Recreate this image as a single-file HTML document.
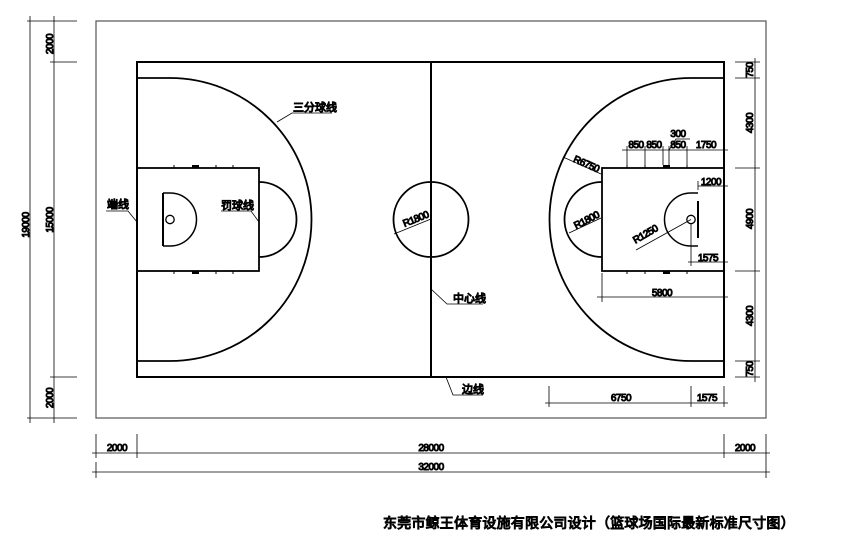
<!DOCTYPE html>
<html><head><meta charset="utf-8"><style>
html,body{margin:0;padding:0;background:#fff;width:842px;height:544px;overflow:hidden}
svg{display:block}
text{font-family:"Liberation Sans","Noto Sans CJK SC",sans-serif;fill:#222;font-weight:normal}
.d{font-size:10px;letter-spacing:-0.5px}
.c{font-size:11px;font-weight:600}
</style></head><body>
<svg width="842" height="544" viewBox="0 0 842 544" xmlns="http://www.w3.org/2000/svg">
<g fill="none" stroke="#000">
<rect x="96" y="21" width="670" height="397" stroke="#555" stroke-width="1.2"/>
<rect x="137" y="62" width="587" height="315" stroke-width="2"/>
<line x1="431" y1="62" x2="431" y2="377" stroke-width="2"/>
<circle cx="431" cy="219.5" r="37.5" stroke-width="1.8"/>
<path d="M137 78 H170 A141.5 141.5 0 0 1 170 361 H137" stroke-width="1.8"/>
<rect x="137" y="168" width="122" height="103" stroke-width="1.8"/>
<path d="M259 182 A37.5 37.5 0 0 1 259 257" stroke-width="1.8"/>
<line x1="163" y1="193" x2="163" y2="246" stroke-width="2"/>
<path d="M163 193 H170 A26.5 26.5 0 0 1 170 246 H163" stroke-width="1.5"/>
<circle cx="170" cy="219.5" r="4.2" stroke-width="1.3"/>
<path d="M724 78 H691 A141.5 141.5 0 0 0 691 361 H724" stroke-width="1.8"/>
<rect x="602" y="168" width="122" height="103" stroke-width="1.8"/>
<path d="M602 182 A37.5 37.5 0 0 0 602 257" stroke-width="1.8"/>
<line x1="698" y1="201" x2="698" y2="238" stroke-width="2"/>
<path d="M698 193 H691 A26.5 26.5 0 0 0 691 246 H698" stroke-width="1.5"/>
<circle cx="691" cy="219.5" r="4.2" stroke-width="1.3"/>
<g stroke-width="1">
<path d="M174 165v3M216 165v3M233 165v3M174 271v3M216 271v3M233 271v3"/>
<path d="M627 165v3M645 165v3M687 165v3M627 271v3M645 271v3M687 271v3"/>
</g>
<g fill="#000" stroke="none">
<rect x="192" y="165" width="7" height="3"/><rect x="192" y="271" width="7" height="3"/>
<rect x="663" y="165" width="7" height="3"/><rect x="663" y="271" width="7" height="3"/>
</g>
<g stroke-width="0.8">
<line x1="30" y1="16" x2="30" y2="423"/><line x1="54" y1="16" x2="54" y2="423"/>
<path d="M27 21H77M27 418H77M50 62H77M50 377H77"/>
<line x1="755" y1="58" x2="755" y2="382"/>
<path d="M735 62H760M735 78H760M735 168H760M735 271H760M735 361H760M735 377H760"/>
<line x1="622" y1="150" x2="728" y2="150"/>
<path d="M627 146V165M645 146V165M663 146V165M669 146V165M687 146V165M724 146V154"/>
<path d="M669 150L676 139H690"/>
<path d="M698 190V181M698 186H728"/>
<path d="M691 224V266M688 262H728"/>
<path d="M602 273V302M597 297H728"/>
<path d="M563 157L601 174"/><path d="M569 233L601 218"/><path d="M691 219.5L636 250"/>
<path d="M549 386V407M691 386V407M724 386V407M545 403H728"/>
<path d="M96 434V458M137 434V458M724 434V458M766 434V478"/>
<line x1="92" y1="453" x2="770" y2="453"/>
<path d="M96 462V478"/><line x1="92" y1="472" x2="770" y2="472"/>
<path d="M277 122L292 113H332"/>
<path d="M137 222L128 211H106"/>
<path d="M259 222L251 211H221"/>
<path d="M431 289L447 304H483"/>
<path d="M446 377L453 395H483"/>
<path d="M394 234L431 219"/>
</g>
<g class="d">
<text transform="translate(29,225) rotate(-90)" text-anchor="middle">19000</text>
<text transform="translate(53,44) rotate(-90)" text-anchor="middle">2000</text>
<text transform="translate(53,220) rotate(-90)" text-anchor="middle">15000</text>
<text transform="translate(53,398) rotate(-90)" text-anchor="middle">2000</text>
<text transform="translate(753,70) rotate(-90)" text-anchor="middle">750</text>
<text transform="translate(753,123) rotate(-90)" text-anchor="middle">4300</text>
<text transform="translate(753,219) rotate(-90)" text-anchor="middle">4900</text>
<text transform="translate(753,316) rotate(-90)" text-anchor="middle">4300</text>
<text transform="translate(753,369) rotate(-90)" text-anchor="middle">750</text>
<text x="636" y="148" text-anchor="middle">850</text>
<text x="654" y="148" text-anchor="middle">850</text>
<text x="678" y="148" text-anchor="middle">850</text>
<text x="706" y="148" text-anchor="middle">1750</text>
<text x="678" y="137" text-anchor="middle">300</text>
<text x="711" y="185" text-anchor="middle">1200</text>
<text x="708" y="261" text-anchor="middle">1575</text>
<text x="662" y="296" text-anchor="middle">5800</text>
<text x="621" y="401" text-anchor="middle">6750</text>
<text x="707" y="401" text-anchor="middle">1575</text>
<text x="117" y="451" text-anchor="middle">2000</text>
<text x="431" y="451" text-anchor="middle">28000</text>
<text x="745" y="451" text-anchor="middle">2000</text>
<text x="431" y="470" text-anchor="middle">32000</text>
<text transform="translate(585,167) rotate(24)" text-anchor="middle">R6750</text>
<text transform="translate(588,223) rotate(-27)" text-anchor="middle">R1800</text>
<text transform="translate(647,237) rotate(-30)" text-anchor="middle">R1250</text>
<text transform="translate(417,222) rotate(-22)" text-anchor="middle">R1800</text>
</g>
<g class="c">
<text x="293" y="111">三分球线</text>
<text x="107" y="208">端线</text>
<text x="221" y="209">罚球线</text>
<text x="453" y="302">中心线</text>
<text x="462" y="393">边线</text>
</g>
<text x="383" y="528" style="font-size:14px;letter-spacing:0.2px;fill:#333">东莞市鲸王体育设施有限公司设计（篮球场国际最新标准尺寸图）</text>
</svg>
</body></html>
